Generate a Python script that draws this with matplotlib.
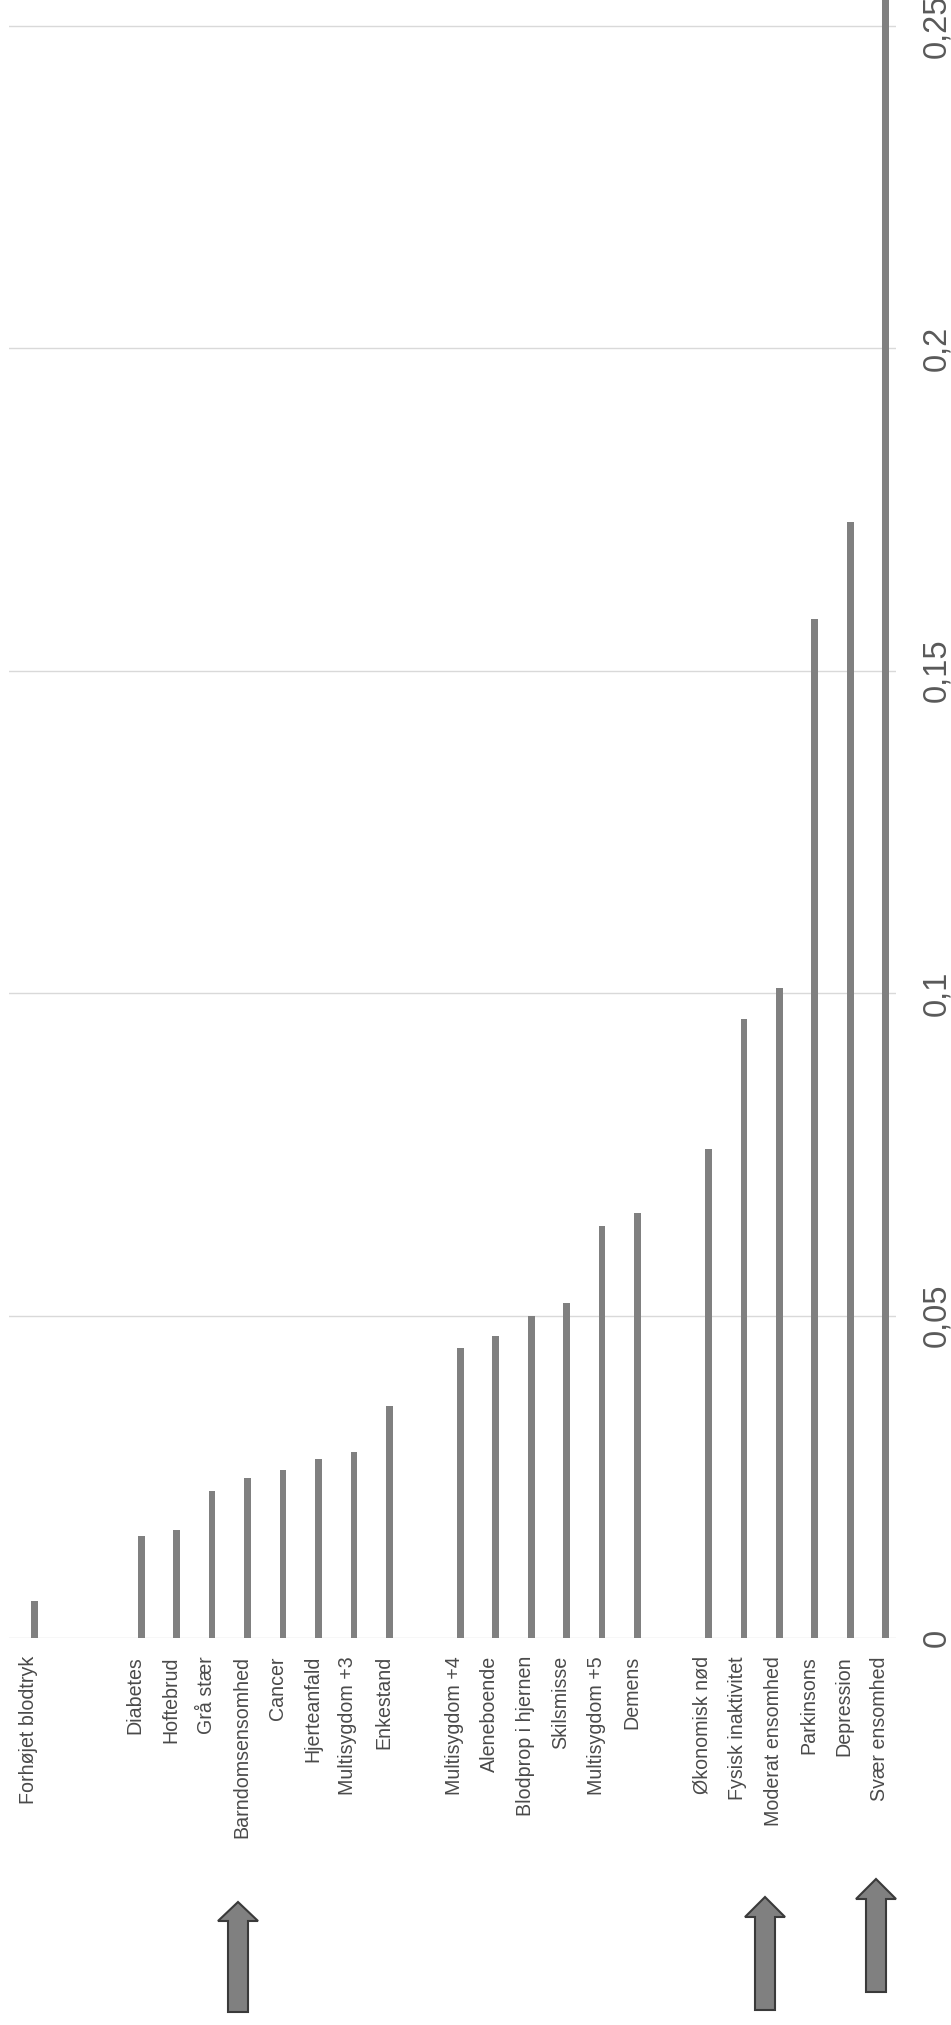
import numpy as np
import matplotlib
matplotlib.use("Agg")
import matplotlib.pyplot as plt
from matplotlib.patches import Polygon
import matplotlib.transforms as mtransforms

plt.rcParams['font.family'] = ['Liberation Sans', 'DejaVu Sans']

categories = ["Forhøjet blodtryk", "", "", "Diabetes", "Hoftebrud", "Grå stær",
              "Barndomsensomhed", "Cancer", "Hjerteanfald", "Multisygdom +3", "Enkestand", "",
              "Multisygdom +4", "Aleneboende", "Blodprop i hjernen", "Skilsmisse",
              "Multisygdom +5", "Demens", "", "Økonomisk nød", "Fysisk inaktivitet",
              "Moderat ensomhed", "Parkinsons", "Depression", "Svær ensomhed"]
values = [0.0058, np.nan, np.nan, 0.0158, 0.0168, 0.0228,
          0.0248, 0.026, 0.0278, 0.0288, 0.0359, np.nan,
          0.0449, 0.0469, 0.0499, 0.0519,
          0.0639, 0.0659, np.nan, 0.0759, 0.096,
          0.1008, 0.158, 0.173, 0.27]
value_ticks = [0, 0.05, 0.1, 0.15, 0.2, 0.25]
tick_labels = ["0", "0,05", "0,1", "0,15", "0,2", "0,25"]

W, H = 951, 2025
fig = plt.figure(figsize=(W / 100, H / 100), dpi=100)
fig.patch.set_facecolor('white')

ax_left, ax_right = 9.3 / W, 895.7 / W
ax_bottom = 1 - 1638 / H
ax = fig.add_axes([ax_left, ax_bottom, ax_right - ax_left, 1 - ax_bottom])

x = np.arange(len(categories))
ax.bar(x, values, width=0.19, color='#808080', zorder=3)
ax.set_xlim(-0.72, 24.28)
ax.set_ylim(0, 0.2540)

for s in ax.spines.values():
    s.set_visible(False)
ax.set_yticks(value_ticks)
ax.yaxis.grid(True, color='#d9d9d9', linewidth=1.0, zorder=0)
ax.set_axisbelow(True)
ax.yaxis.tick_right()
ax.set_yticklabels(tick_labels, rotation=90, fontsize=23.5, color='#595959',
                   va='center', ha='left')
ax.tick_params(axis='y', length=0, pad=18.5)

ax.set_xticks(x)
ax.set_xticklabels(categories, rotation=90, fontsize=14.1, color='#4a4a4a',
                   va='top', ha='center')
ax.tick_params(axis='x', length=0, pad=13)
offset = mtransforms.ScaledTranslation(-6 / 100, 0, fig.dpi_scale_trans)
for lbl in ax.get_xticklabels():
    lbl.set_transform(lbl.get_transform() + offset)

# overlay for arrow annotations (pixel coordinates)
ov = fig.add_axes([0, 0, 1, 1], facecolor='none')
ov.set_xlim(0, W)
ov.set_ylim(H, 0)
ov.axis('off')

def up_arrow(cx, tip, head_base, bottom, head_half, shaft_half):
    pts = [(cx, tip), (cx + head_half, head_base), (cx + shaft_half, head_base),
           (cx + shaft_half, bottom), (cx - shaft_half, bottom),
           (cx - shaft_half, head_base), (cx - head_half, head_base)]
    ov.add_patch(Polygon(pts, closed=True, facecolor='#808080',
                         edgecolor='#3a3a3a', linewidth=1.5))

up_arrow(238, 1902, 1921, 2012, 20, 10)
up_arrow(765, 1897, 1917, 2010, 20, 10)
up_arrow(876, 1879, 1899, 1992, 20, 10)

fig.savefig('out.png', dpi=100, facecolor='white')
